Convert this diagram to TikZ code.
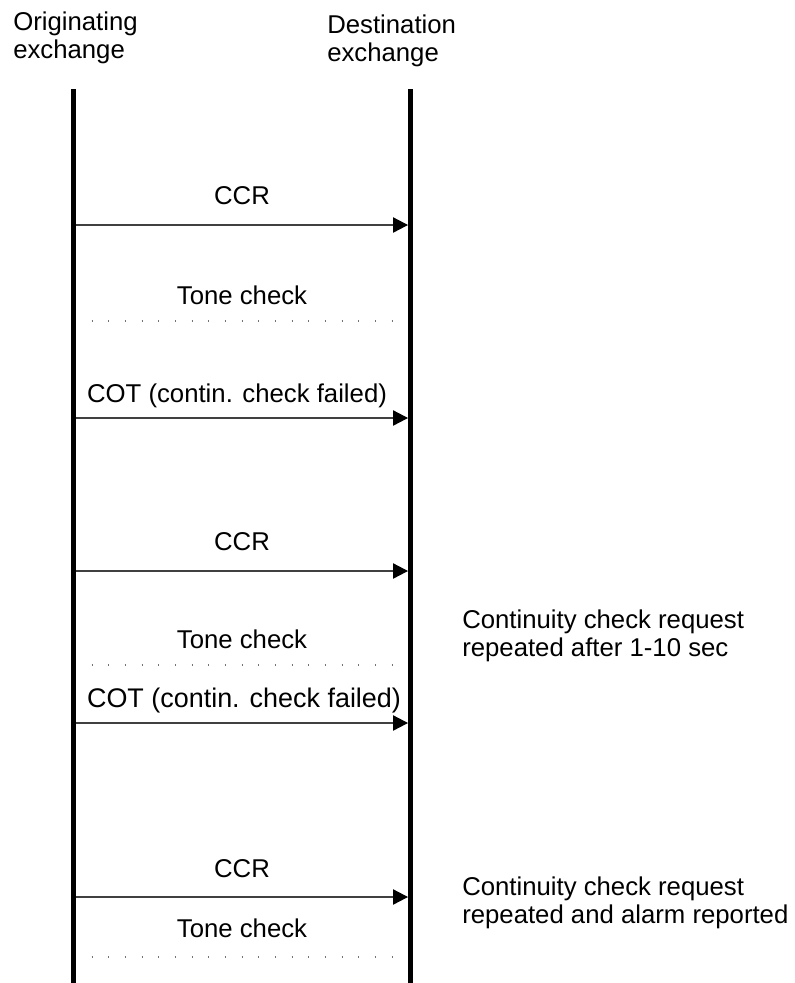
\documentclass[tikz,border=0pt]{standalone}
\usepackage{fontspec}
\setmainfont{Liberation Sans}
\usetikzlibrary{arrows.meta}
\begin{document}
\begin{tikzpicture}[x=0.75pt,y=-0.75pt,
  lbl/.style={inner sep=0pt,font=\fontsize{19.3pt}{20.5pt}\selectfont,anchor=base},
  note/.style={inner sep=0pt,font=\fontsize{19.3pt}{20.5pt}\selectfont,anchor=base west,align=left},
  lifeline/.style={line width=3.75pt,black},
  msg/.style={draw=black!75,line width=0.9pt,-{Triangle[length=11.25pt,width=11.5pt,color=black]}},
  tone/.style={draw=black!55,line width=0.8pt,dash pattern=on 0.8pt off 11.7pt,dash phase=0.8pt}]
\useasboundingbox (0,0) rectangle (795,983);
% headers (anchor base = baseline of last line)
\node[note] (hO) at (13,58) {Originating\\exchange};
\node[note] (hD) at (327,61) {Destination\\exchange};
% lifelines
\coordinate (Ot) at (73.5,89);
\coordinate (Ob) at (73.5,983);
\coordinate (Dt) at (410.5,89);
\coordinate (Db) at (410.5,983);
\draw[lifeline] (Ot) -- (Ob);
\draw[lifeline] (Dt) -- (Db);
% message endpoints
\coordinate (m1s) at (76,225); \coordinate (m1e) at (408,225);
\coordinate (t1s) at (76,321); \coordinate (t1e) at (405,321);
\coordinate (m2s) at (76,418); \coordinate (m2e) at (408,418);
\coordinate (m3s) at (76,571); \coordinate (m3e) at (408,571);
\coordinate (t2s) at (76,665); \coordinate (t2e) at (405,665);
\coordinate (m4s) at (76,723); \coordinate (m4e) at (408,723);
\coordinate (m5s) at (76,897); \coordinate (m5e) at (408,897);
\coordinate (t3s) at (76,957); \coordinate (t3e) at (405,957);
% messages
\draw[msg] (m1s) -- (m1e);
\draw[tone] (t1s) -- (t1e);
\draw[msg] (m2s) -- (m2e);
\draw[msg] (m3s) -- (m3e);
\draw[tone] (t2s) -- (t2e);
\draw[msg] (m4s) -- (m4e);
\draw[msg] (m5s) -- (m5e);
\draw[tone] (t3s) -- (t3e);
% labels
\node[lbl] (l1) at (242,204) {CCR};
\node[lbl] (l2) at (242,304) {Tone check};
\node[lbl] (l3) at (237,402) {COT (contin. check failed)};
\node[lbl] (l4) at (242,550) {CCR};
\node[lbl] (l5) at (242,648) {Tone check};
\node[lbl,font=\fontsize{20.2pt}{21pt}\selectfont] (l6) at (244,707) {COT (contin. check failed)};
\node[lbl] (l7) at (242,877) {CCR};
\node[lbl] (l8) at (242,937) {Tone check};
% side notes
\node[note] (n1) at (462,656) {Continuity check request\\repeated after 1-10 sec};
\node[note] (n2) at (462,923) {Continuity check request\\repeated and alarm reported};
\end{tikzpicture}
\end{document}
